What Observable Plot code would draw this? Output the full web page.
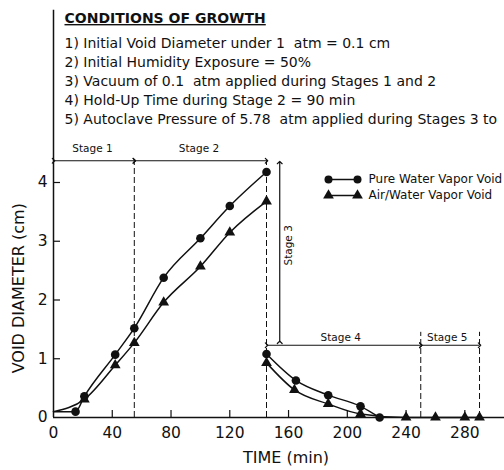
<!DOCTYPE html>
<html><head><meta charset="utf-8">
<script src="https://cdn.jsdelivr.net/npm/d3@7"></script>
<script src="https://cdn.jsdelivr.net/npm/@observablehq/plot@0.6"></script>
<style>
body{margin:0;background:#fff}
#chart svg{font-family:"DejaVu Sans",Arial,sans-serif;background:#fff}
</style>
</head><body><div id="chart"></div>
<script>
// ---- data ----
const pureTime1 = [0, 15, 21, 42, 55, 75, 100, 120, 145];
const pureDiam1 = [0.1, 0.1, 0.36, 1.07, 1.52, 2.38, 3.05, 3.6, 4.18];
const airTime1  = [0, 21, 42, 55, 75, 100, 120, 145];
const airDiam1  = [0.1, 0.31, 0.89, 1.27, 1.96, 2.57, 3.15, 3.68];
const pureTime2 = [145, 165, 187, 209, 222];
const pureDiam2 = [1.08, 0.63, 0.38, 0.19, 0];
const airTime2  = [145, 164, 187, 209, 240, 260, 280, 290];
const airDiam2  = [0.93, 0.47, 0.23, 0.06, 0, 0, 0, 0];

const stageNames = ["Stage 1", "Stage 2", "Stage 3", "Stage 4", "Stage 5"];
const stageStart = [0, 55, 145, 145, 250];
const stageEnd   = [55, 145, 145, 250, 290];

const seriesNames = ["Pure Water Vapor Void", "Air/Water Vapor Void"];
const conditionsTitle = "CONDITIONS OF GROWTH";
const conditions = [
  "1) Initial Void Diameter under 1  atm = 0.1 cm",
  "2) Initial Humidity Exposure = 50%",
  "3) Vacuum of 0.1  atm applied during Stages 1 and 2",
  "4) Hold-Up Time during Stage 2 = 90 min",
  "5) Autoclave Pressure of 5.78  atm applied during Stages 3 to"
];
const xTicks = [0, 40, 80, 120, 160, 200, 240, 280];
const yTicks = [0, 1, 2, 3, 4];
const xLabel = "TIME (min)";
const yLabel = "VOID DIAMETER (cm)";

// ---- build tables ----
const toRows = (ts, vs) => ts.map((t, i) => ({t, v: vs[i]}));
const pure1 = toRows(pureTime1, pureDiam1), pure2 = toRows(pureTime2, pureDiam2);
const air1 = toRows(airTime1, airDiam1), air2 = toRows(airTime2, airDiam2);
const withMarker = d => d.t > 0;
const stages = stageNames.map((name, i) => ({name, x1: stageStart[i], x2: stageEnd[i]}));

// layout constants (data units for y)
const topArrowY = 4.37, lowArrowY = 1.23, stage3X = 154, axisTop = 6.93;
const lowDashTop = 1.45;
const ink = "#111";
const font = '"DejaVu Sans", Arial, sans-serif';

const lineShape = {draw(ctx, l) { ctx.moveTo(0, 0); ctx.lineTo(0, -l); }};

const plot = Plot.plot({
  width: 504, height: 470,
  marginLeft: 53, marginRight: 0, marginTop: 0, marginBottom: 53,
  style: {fontFamily: font, color: ink},
  x: {domain: [0, 307], axis: null},
  y: {domain: [0, 417 / 58.75], axis: null},
  marks: [
    // axes
    Plot.ruleX([0], {y1: 0, y2: axisTop, stroke: ink, strokeWidth: 1.5}),
    Plot.ruleY([0], {stroke: ink, strokeWidth: 1.5}),
    Plot.axisX(xTicks.filter(d => d > 0), {tickSize: -7, fill: "none", stroke: ink, strokeWidth: 1.2}),
    Plot.axisX(xTicks, {tickSize: 0, tickPadding: 9, fontSize: 15.5, fill: ink, label: null, tickFormat: d => String(d)}),
    Plot.axisY(yTicks.filter(d => d > 0), {tickSize: -7, fill: "none", stroke: ink, strokeWidth: 1.2}),
    Plot.axisY(yTicks, {tickSize: 0, tickPadding: 6, fontSize: 15.5, fill: ink, label: null, tickFormat: d => String(d)}),
    Plot.text([xLabel], {frameAnchor: "bottom", dx: 7, dy: 45, fontSize: 16, fill: ink}),
    Plot.text([yLabel], {x: 0, y: 2.2, rotate: -90, dx: -35, fontSize: 16, fill: ink}),

    // stage boundaries (dashed)
    Plot.ruleX([stageEnd[0], stageEnd[1]], {x: d => d, y1: 0, y2: topArrowY, stroke: ink, strokeDasharray: "6,3", strokeWidth: 1}),
    Plot.ruleX([stageEnd[3], stageEnd[4]], {x: d => d, y1: 0, y2: lowDashTop, stroke: ink, strokeDasharray: "6,3", strokeWidth: 1}),

    // stage arrows
    Plot.link(stages.filter((d, i) => i < 2), {x1: "x1", x2: "x2", y1: topArrowY, y2: topArrowY, stroke: ink, strokeWidth: 1.2, markerStart: "arrow", markerEnd: "arrow"}),
    Plot.link(stages.filter((d, i) => i > 2), {x1: "x1", x2: "x2", y1: lowArrowY, y2: lowArrowY, stroke: ink, strokeWidth: 1.2, markerStart: "arrow", markerEnd: "arrow"}),
    Plot.link([stages[2]], {x1: stage3X, x2: stage3X, y1: lowArrowY + 0.05, y2: topArrowY - 0.03, stroke: ink, strokeWidth: 1.2, markerStart: "arrow", markerEnd: "arrow"}),
    Plot.text(stages.filter((d, i) => i < 2), {x: d => (d.x1 + d.x2) / 2 - 1, y: topArrowY, text: "name", dy: -12, fontSize: 10.5, fill: ink}),
    Plot.text(stages.filter((d, i) => i > 2), {x: d => (d.x1 + d.x2) / 2 - 2, y: lowArrowY, text: "name", dy: -8, fontSize: 10.5, fill: ink}),
    Plot.text([stages[2]], {x: stage3X + 6, y: 2.93, text: "name", rotate: -90, fontSize: 10.5, fill: ink}),

    // data lines
    Plot.line(pure1, {x: "t", y: "v", curve: "monotone-x", stroke: ink, strokeWidth: 1.5}),
    Plot.line(air1, {x: "t", y: "v", curve: "monotone-x", stroke: ink, strokeWidth: 1.5}),
    Plot.line(pure2, {x: "t", y: "v", curve: "monotone-x", stroke: ink, strokeWidth: 1.5}),
    Plot.line(air2, {x: "t", y: "v", curve: "monotone-x", stroke: ink, strokeWidth: 1.5}),
    Plot.dot(pure1.concat(pure2).filter(withMarker), {x: "t", y: "v", r: 4.3, fill: ink, stroke: "none"}),
    Plot.dot(air1.concat(air2).filter(withMarker), {x: "t", y: "v", r: 4, symbol: "triangle", fill: ink, stroke: "none"}),

    // legend
    Plot.vector([0], {frameAnchor: "top-left", dx: 275, dy: 179, length: 29, rotate: 90, anchor: "start", shape: lineShape, stroke: ink, strokeWidth: 1.5}),
    Plot.vector([0], {frameAnchor: "top-left", dx: 275, dy: 195, length: 29, rotate: 90, anchor: "start", shape: lineShape, stroke: ink, strokeWidth: 1.5}),
    Plot.dot([0], {frameAnchor: "top-left", dx: 275, dy: 179, r: 4, fill: ink}),
    Plot.dot([0], {frameAnchor: "top-left", dx: 304, dy: 179, r: 4, fill: ink}),
    Plot.dot([0], {frameAnchor: "top-left", dx: 275, dy: 195, r: 4, symbol: "triangle", fill: ink}),
    Plot.dot([0], {frameAnchor: "top-left", dx: 304, dy: 195, r: 4, symbol: "triangle", fill: ink}),
    Plot.text([seriesNames[0]], {frameAnchor: "top-left", dx: 315, dy: 179, textAnchor: "start", lineAnchor: "middle", fontSize: 12, fill: ink}),
    Plot.text([seriesNames[1]], {frameAnchor: "top-left", dx: 315, dy: 195, textAnchor: "start", lineAnchor: "middle", fontSize: 12, fill: ink}),

    // conditions block
    Plot.text([conditionsTitle], {frameAnchor: "top-left", dx: 11, dy: 18, textAnchor: "start", lineAnchor: "middle", fontSize: 14, fontWeight: "bold", fill: ink}),
    Plot.text([conditions.join("\n")], {frameAnchor: "top-left", dx: 11, dy: 34, textAnchor: "start", lineAnchor: "top", lineHeight: 19 / 14, fontSize: 14, fill: ink})
  ]
});

d3.select(plot).selectAll("text")
  .filter(function () { return this.textContent === conditionsTitle; })
  .attr("text-decoration", "underline");

document.getElementById("chart").append(plot);
</script>
</body></html>
